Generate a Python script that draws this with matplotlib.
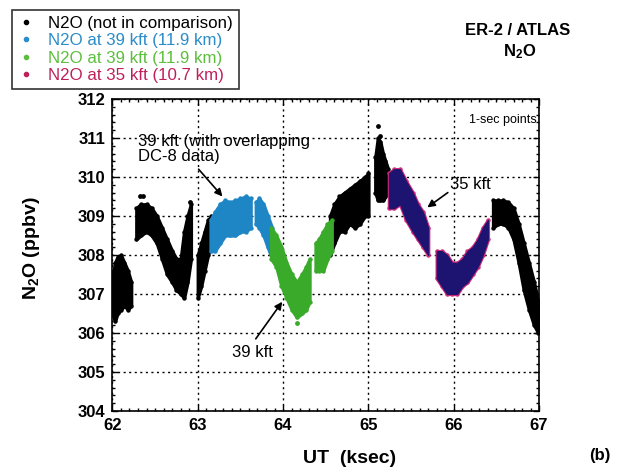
import numpy as np
import matplotlib
matplotlib.use("Agg")
import matplotlib.pyplot as plt
from matplotlib.lines import Line2D
from matplotlib.ticker import MultipleLocator

plt.rcParams['font.family'] = ['Liberation Sans', 'DejaVu Sans']
plt.rcParams['mathtext.fontset'] = 'custom'
plt.rcParams['mathtext.rm'] = 'Liberation Sans'
plt.rcParams['mathtext.bf'] = 'Liberation Sans:bold'

# traced envelopes of the 1-sec N2O points: UT (ksec), lower / upper (ppbv)
black_x = [
    [62.00, 62.03, 62.06, 62.10, 62.14, 62.18, 62.22],
    [62.28, 62.33, 62.40, 62.46, 62.52, 62.58, 62.64, 62.70, 62.75, 62.80, 62.84, 62.88, 62.92],
    [63.00, 63.04, 63.08, 63.12, 63.16],
    [64.55, 64.60, 64.66, 64.72, 64.78, 64.84, 64.90, 64.96, 65.00],
    [65.08, 65.11, 65.14, 65.17, 65.20, 65.23],
    [66.46, 66.52, 66.58, 66.64, 66.70, 66.76, 66.82, 66.88, 66.94, 66.99],
]
black_lo = [
    [306.5, 306.3, 306.5, 306.6, 306.7, 306.6, 306.7],
    [308.4, 308.5, 308.6, 308.5, 308.3, 307.9, 307.5, 307.3, 307.1, 307.0, 306.9, 307.3, 307.9],
    [306.9, 307.2, 307.6, 308.0, 308.3],
    [308.0, 308.3, 308.6, 308.6, 308.8, 308.7, 308.8, 309.0, 309.0],
    [309.6, 309.4, 309.4, 309.4, 309.5, 309.6],
    [308.7, 308.8, 308.8, 308.7, 308.4, 307.8, 307.1, 306.6, 306.2, 306.0],
]
black_hi = [
    [307.4, 307.8, 307.95, 308.0, 307.8, 307.6, 307.3],
    [309.2, 309.3, 309.3, 309.2, 309.0, 308.7, 308.4, 308.1, 307.9, 307.9, 308.6, 309.0, 309.3],
    [308.0, 308.3, 308.6, 308.9, 309.0],
    [309.0, 309.3, 309.5, 309.6, 309.7, 309.8, 309.9, 310.0, 310.1],
    [310.5, 311.0, 310.9, 310.6, 310.4, 310.2],
    [309.4, 309.4, 309.4, 309.35, 309.2, 308.8, 308.3, 307.8, 307.3, 306.8],
]
black_out_x = [62.32, 62.36, 62.91, 65.11, 65.14]
black_out_y = [309.5, 309.5, 309.35, 311.3, 311.05]

blue_x = [
    [63.15, 63.20, 63.26, 63.32, 63.38, 63.44, 63.50, 63.56, 63.62],
    [63.68, 63.72, 63.77, 63.82, 63.87],
]
blue_lo = [
    [308.1, 308.1, 308.3, 308.5, 308.5, 308.5, 308.6, 308.6, 308.7],
    [308.8, 308.7, 308.5, 308.2, 307.9],
]
blue_hi = [
    [308.9, 309.1, 309.3, 309.4, 309.35, 309.4, 309.45, 309.5, 309.45],
    [309.35, 309.45, 309.3, 309.0, 308.7],
]

green_x = [
    [63.86, 63.92, 63.98, 64.04, 64.10, 64.16, 64.22, 64.27, 64.31],
    [64.38, 64.42, 64.47, 64.52, 64.57],
]
green_lo = [
    [307.9, 307.7, 307.2, 306.9, 306.6, 306.4, 306.5, 306.6, 306.8],
    [307.6, 307.6, 307.6, 307.9, 308.1],
]
green_hi = [
    [308.7, 308.5, 308.2, 307.8, 307.5, 307.3, 307.5, 307.7, 307.9],
    [308.3, 308.4, 308.6, 308.8, 308.9],
]
green_out_x = [64.16, 64.28]
green_out_y = [306.25, 307.5]

navy_x = [
    [65.24, 65.30, 65.37, 65.44, 65.52, 65.58, 65.64, 65.70],
    [65.80, 65.86, 65.92, 65.98, 66.04, 66.10, 66.16, 66.22, 66.28, 66.34, 66.40],
]
navy_lo = [
    [309.2, 309.2, 309.3, 308.9, 308.6, 308.4, 308.2, 308.0],
    [307.4, 307.2, 307.0, 307.0, 307.0, 307.2, 307.3, 307.5, 307.7, 308.0, 308.4],
]
navy_hi = [
    [310.1, 310.2, 310.2, 309.9, 309.6, 309.3, 309.1, 308.7],
    [308.1, 308.1, 308.0, 307.8, 307.8, 307.9, 308.1, 308.2, 308.4, 308.7, 308.9],
]

legend_labels = ['N2O (not in comparison)', 'N2O at 39 kft (11.9 km)',
                 'N2O at 39 kft (11.9 km)', 'N2O at 35 kft (10.7 km)']
legend_colors = ['black', '#2a8cc8', '#5cbf3c', '#c0205a']

BLACK = 'black'
BLUE = '#1f86c6'
GREEN = '#3aaa2a'
NAVY = '#1c1470'
MAGENTA = '#d02a78'


def draw_band(ax, xs, los, his, color, edge=None, z=2):
    edge = color if edge is None else edge
    for x, lo, hi in zip(xs, los, his):
        ax.fill_between(x, lo, hi, facecolor=color, edgecolor=edge, lw=2.4, zorder=z)
        ax.scatter(x, lo, s=10, color=edge, lw=0, zorder=z)
        ax.scatter(x, hi, s=10, color=edge, lw=0, zorder=z)


fig = plt.figure(figsize=(6.35, 4.67), dpi=100)
ax = fig.add_axes([0.177, 0.12, 0.672, 0.668])

draw_band(ax, black_x, black_lo, black_hi, BLACK)
ax.scatter(black_out_x, black_out_y, s=12, color=BLACK, lw=0, zorder=2)
draw_band(ax, blue_x, blue_lo, blue_hi, BLUE)
draw_band(ax, green_x, green_lo, green_hi, GREEN)
ax.scatter(green_out_x, green_out_y, s=12, color=GREEN, lw=0, zorder=2)
draw_band(ax, navy_x, navy_lo, navy_hi, NAVY, edge=MAGENTA)
for x, lo, hi in zip(navy_x, navy_lo, navy_hi):
    ax.fill_between(x, lo, hi, facecolor=NAVY, edgecolor=NAVY, lw=0.8, zorder=3)

ax.set_xlim(62, 67)
ax.set_ylim(304, 312)
ax.xaxis.set_major_locator(MultipleLocator(1))
ax.xaxis.set_minor_locator(MultipleLocator(0.1))
ax.yaxis.set_major_locator(MultipleLocator(1))
ax.yaxis.set_minor_locator(MultipleLocator(0.2))
ax.tick_params(which='both', direction='in', top=True, right=True, width=1)
ax.tick_params(which='major', length=4, labelsize=12, pad=5)
ax.tick_params(which='minor', length=2)
for lab in ax.get_xticklabels() + ax.get_yticklabels():
    lab.set_fontweight('bold')
ax.grid(True, which='major', color='black', linestyle=(0, (1.5, 2.5)), lw=1)
for sp in ax.spines.values():
    sp.set_linewidth(1.2)

ax.set_xlabel('UT  (ksec)', fontsize=14, fontweight='bold')
ax.xaxis.set_label_coords(0.555, -0.125)
ax.set_ylabel(r'$\mathbf{N_2O}$ (ppbv)', fontsize=14, fontweight='bold')
ax.yaxis.set_label_coords(-0.165, 0.52)

# annotations
arrow = dict(arrowstyle='-|>', color='black', lw=1.2, mutation_scale=11, shrinkA=0, shrinkB=0)
ax.text(62.30, 311.1, '39 kft (with overlapping\nDC-8 data)', fontsize=12,
        ha='left', va='top', linespacing=1.0)
ax.annotate('', xy=(63.29, 309.5), xytext=(63.01, 310.2), arrowprops=arrow)
ax.text(63.64, 305.5, '39 kft', fontsize=12, ha='center', va='center')
ax.annotate('', xy=(63.99, 306.8), xytext=(63.68, 305.85), arrowprops=arrow)
ax.text(66.19, 309.8, '35 kft', fontsize=12, ha='center', va='center')
ax.annotate('', xy=(65.69, 309.22), xytext=(65.93, 309.6), arrowprops=arrow)
ax.text(66.97, 311.45, '1-sec points', fontsize=9, ha='right', va='center')

handles = [Line2D([], [], marker='o', ms=3, ls='none', color=c) for c in legend_colors]
leg = fig.legend(handles, legend_labels, loc='upper left', bbox_to_anchor=(0.019, 0.979),
                 bbox_transform=fig.transFigure, fontsize=12.2, frameon=True, fancybox=False,
                 edgecolor='black', handlelength=1.0, handletextpad=0.8, labelspacing=0.15,
                 borderpad=0.35, borderaxespad=0)
leg.get_frame().set_linewidth(1.2)
for t, c in zip(leg.get_texts(), legend_colors):
    t.set_color(c)

fig.text(0.815, 0.935, 'ER-2 / ATLAS', fontsize=12, fontweight='bold', ha='center', va='center')
fig.text(0.818, 0.89, r'$\mathbf{N_2O}$', fontsize=12, ha='center', va='center')
fig.text(0.945, 0.025, '(b)', fontsize=12, fontweight='bold', ha='center', va='center')

fig.savefig('out.png', dpi=100)
